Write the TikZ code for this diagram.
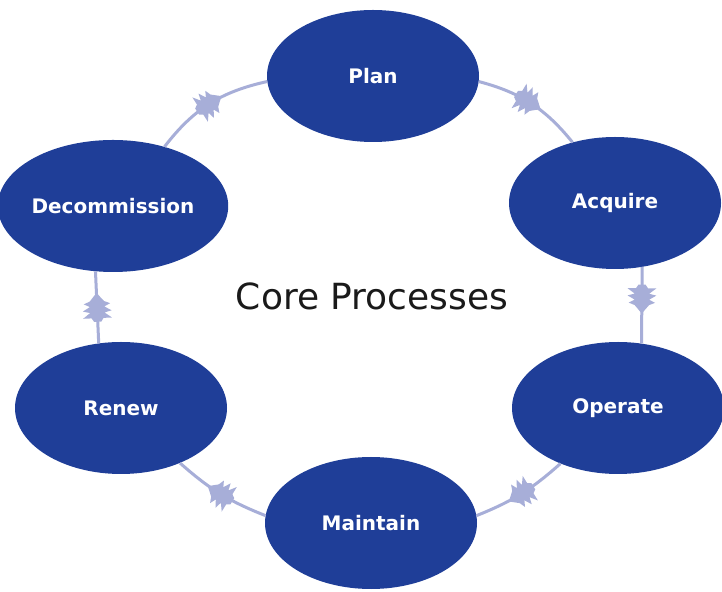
\documentclass[tikz,border=0pt]{standalone}
\usepackage{fontspec}
\setmainfont{DejaVu Sans}
\usetikzlibrary{shapes.geometric,decorations.markings}
\definecolor{nodeblue}{HTML}{1F3E98}
\definecolor{linkcol}{HTML}{A7AED8}
\definecolor{titlecol}{HTML}{1A1A1A}
\newcommand\firmark{\fill[linkcol, scale=1.2] (12pt,0pt) -- (5pt,6pt) -- (3pt,11pt) -- (0.5pt,6pt) -- (-3pt,12pt) -- (-4.5pt,6pt) -- (-9pt,12pt) -- (-9pt,5pt) -- (-12pt,3pt) -- (-12pt,-3pt) -- (-9pt,-5pt) -- (-9pt,-12pt) -- (-4.5pt,-6pt) -- (-3pt,-12pt) -- (0.5pt,-6pt) -- (3pt,-11pt) -- (5pt,-6pt) -- cycle;}
\tikzset{
  proc/.style={ellipse, fill=nodeblue, minimum width=212pt, minimum height=132pt, inner sep=0pt, text=white, font=\bfseries\fontsize{20}{24}\selectfont},
  link/.style={draw=linkcol, line width=3pt, postaction={decorate}, decoration={markings, mark=at position #1 with {\firmark}}},
  link/.default=0.5,
  title/.style={text=titlecol, font=\fontsize{36}{40}\selectfont, inner sep=0pt}
}
\begin{document}
\begin{tikzpicture}[x=1pt,y=1pt]
\useasboundingbox[fill=white] (0,0) rectangle (722,591);
\node[proc] (plan) at (373,515) {Plan};
\node[proc] (acquire) at (615,388) {Acquire};
\node[proc] (operate) at (618,183) {Operate};
\node[proc] (maintain) at (371,68) {Maintain};
\node[proc] (renew) at (121,183) {Renew};
\node[proc] (decom) at (113,385) {Decommission};
\node[title] (core) at (372,295) {Core Processes};
\draw[link=0.47] (plan.-3) to[bend left=18] (acquire.125);
\draw[link=0.42] (acquire.-67) -- (operate.70);
\draw[link] (operate.-136) to[bend left=10] (maintain.4);
\draw[link] (maintain.176) to[bend left=10] (renew.-43);
\draw[link] (renew.109) -- (decom.-105);
\draw[link] (decom.49) to[bend left=20] (plan.183);
\end{tikzpicture}
\end{document}
